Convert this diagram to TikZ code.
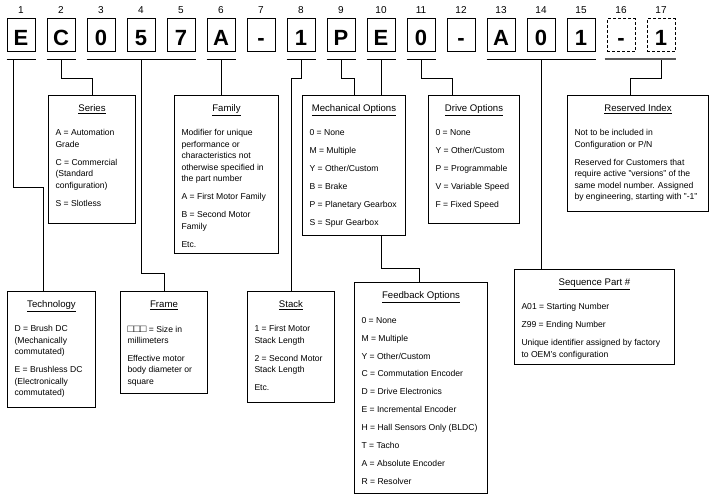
\documentclass[tikz,border=0pt]{standalone}
\usepackage{fontspec}
\setmainfont{Liberation Sans}
\usetikzlibrary{positioning, backgrounds}

\tikzset{
  charbox/.style={draw, line width=1pt, minimum width=28pt, inner sep=0pt, text height=27pt, text depth=6pt,
    font=\fontsize{22}{24}\selectfont\bfseries},
  numlbl/.style={inner sep=0pt, label distance=4.4pt, font=\fontsize{10}{12}\selectfont},
  infobox/.style={draw, line width=1pt, fill=white, anchor=north west, inner xsep=7pt, inner ysep=0pt},
  link/.style={line width=1pt},
}
% width, height, title, body
\newcommand{\boxtext}[4]{\parbox[c][#2][t]{#1}{\fontsize{8.6}{11.5}\selectfont\setlength{\parskip}{6.5pt}%
  {\centering\fontsize{9.6}{11.5}\selectfont\rule{0pt}{16pt}\underline{#3}\par}\vspace{6.5pt}\raggedright #4}}

\begin{document}
\begin{tikzpicture}[x=1pt, y=-1pt]
  \useasboundingbox (0,0) rectangle (713,497);

  % part number characters
  \node[charbox, label={[numlbl]above:1}] (c1) at (21,35.5) {E};
  \node[charbox, label={[numlbl]above:2}] (c2) at (61,35.5) {C};
  \node[charbox, label={[numlbl]above:3}] (c3) at (101,35.5) {0};
  \node[charbox, label={[numlbl]above:4}] (c4) at (141,35.5) {5};
  \node[charbox, label={[numlbl]above:5}] (c5) at (181,35.5) {7};
  \node[charbox, label={[numlbl]above:6}] (c6) at (221,35.5) {A};
  \node[charbox, label={[numlbl]above:7}] (c7) at (261,35.5) {-};
  \node[charbox, label={[numlbl]above:8}] (c8) at (301,35.5) {1};
  \node[charbox, label={[numlbl]above:9}] (c9) at (341,35.5) {P};
  \node[charbox, label={[numlbl]above:10}] (c10) at (381,35.5) {E};
  \node[charbox, label={[numlbl]above:11}] (c11) at (421,35.5) {0};
  \node[charbox, label={[numlbl]above:12}] (c12) at (461,35.5) {-};
  \node[charbox, label={[numlbl]above:13}] (c13) at (501,35.5) {A};
  \node[charbox, label={[numlbl]above:14}] (c14) at (541,35.5) {0};
  \node[charbox, label={[numlbl]above:15}] (c15) at (581,35.5) {1};
  \node[charbox, dashed, dash pattern=on 3pt off 2pt, label={[numlbl]above:16}] (c16) at (621,35.5) {-};
  \node[charbox, dashed, dash pattern=on 3pt off 2pt, label={[numlbl]above:17}] (c17) at (661,35.5) {1};

  % underlines
  \draw[link] ([yshift=-7pt]c1.south west) -- ([yshift=-7pt]c1.south east) coordinate[pos=.25] (u1);
  \draw[link] ([yshift=-7pt]c2.south west) -- ([yshift=-7pt]c2.south east) coordinate[pos=.5] (u2);
  \draw[link] ([yshift=-7pt]c3.south west) -- ([yshift=-7pt]c5.south east) coordinate[pos=.5] (u3);
  \draw[link] ([yshift=-7pt]c6.south west) -- ([yshift=-7pt]c6.south east) coordinate[pos=.5] (u6);
  \draw[link] ([yshift=-7pt]c8.south west) -- ([yshift=-7pt]c8.south east) coordinate[pos=.5] (u8);
  \draw[link] ([yshift=-7pt]c9.south west) -- ([yshift=-7pt]c9.south east) coordinate[pos=.5] (u9);
  \draw[link] ([yshift=-7pt]c10.south west) -- ([yshift=-7pt]c10.south east) coordinate[pos=.5] (u10);
  \draw[link] ([yshift=-7pt]c11.south west) -- ([yshift=-7pt]c11.south east) coordinate[pos=.5] (u11);
  \draw[link] ([yshift=-7pt]c13.south west) -- ([yshift=-7pt]c15.south east) coordinate[pos=.5] (u13);
  \draw[line width=2pt, black!65] ([xshift=-2pt,yshift=-7pt]c16.south west) -- ([yshift=-7pt]c17.south east);
  \coordinate (u17) at ([yshift=-7pt]c17.south);

  % description boxes
  \node[infobox] (series) at (48,95) {\boxtext{73pt}{128pt}{Series}{A = Automation\\Grade\par
    C = Commercial\\(Standard\\configuration)\par S = Slotless}};
  \node[infobox] (family) at (174,95) {\boxtext{90pt}{158pt}{Family}{Modifier for unique\\performance or\\characteristics not\\otherwise specified in\\the part number\par
    A = First Motor Family\par B = Second Motor\\Family\par Etc.}};
  \node[infobox] (mech) at (302,95) {\boxtext{89pt}{140pt}{Mechanical Options}{0 = None\par M = Multiple\par
    Y = Other/Custom\par B = Brake\par P = Planetary Gearbox\par S = Spur Gearbox}};
  \node[infobox] (drive) at (428,95) {\boxtext{77pt}{128pt}{Drive Options}{0 = None\par Y = Other/Custom\par
    P = Programmable\par V = Variable Speed\par F = Fixed Speed}};
  \node[infobox] (reserved) at (567,95) {\boxtext{127pt}{116pt}{Reserved Index}{Not to be included in\\Configuration or P/N\par
    Reserved for Customers that\\require active "versions" of the\\same model number. Assigned\\by engineering, starting with "-1"}};
  \node[infobox] (tech) at (7,291) {\boxtext{74pt}{116pt}{Technology}{D = Brush DC\\(Mechanically\\commutated)\par
    E = Brushless DC\\(Electronically\\commutated)}};
  \node[infobox] (frame) at (120,291) {\boxtext{73pt}{102pt}{Frame}{{\fontsize{10.5}{11.5}\selectfont □□□} = Size in\\millimeters\par
    Effective motor\\body diameter or\\square}};
  \node[infobox] (stack) at (247,291) {\boxtext{73pt}{111pt}{Stack}{1 = First Motor\\Stack Length\par
    2 = Second Motor\\Stack Length\par Etc.}};
  \node[infobox] (feedback) at (354,282) {\boxtext{119pt}{211pt}{Feedback Options}{0 = None\par M = Multiple\par
    Y = Other/Custom\par C = Commutation Encoder\par D = Drive Electronics\par E = Incremental Encoder\par
    H = Hall Sensors Only (BLDC)\par T = Tacho\par A = Absolute Encoder\par R = Resolver}};
  \node[infobox] (seq) at (514,269) {\boxtext{146pt}{95pt}{Sequence Part \#}{A01 = Starting Number\par
    Z99 = Ending Number\par Unique identifier assigned by factory\\to OEM's configuration}};

  % connectors
  \begin{scope}[on background layer]
    \draw[link] (u1) -- ++(0,128) -| ([xshift=-8pt]tech.north);
    \draw[link] (u2) -- ++(0,19) -| (series.north);
    \draw[link] (u3) -- ++(0,214) -| (frame.north);
    \draw[link] (u6) -- (u6 |- family.north);
    \draw[link] (u8) -- ++(0,19) -| (stack.north);
    \draw[link] (u9) -- ++(0,19) -| (mech.north);
    \draw[link] (u10) -- ++(0,209) -| ([xshift=-2pt]feedback.north);
    \draw[link] (u11) -- ++(0,19) -| ([xshift=-22pt]drive.north);
    \draw[link] (u13) -- (u13 |- seq.north);
    \draw[link] (u17) -- ++(0,19) -| ([xshift=-7.5pt]reserved.north);
  \end{scope}
\end{tikzpicture}
\end{document}
